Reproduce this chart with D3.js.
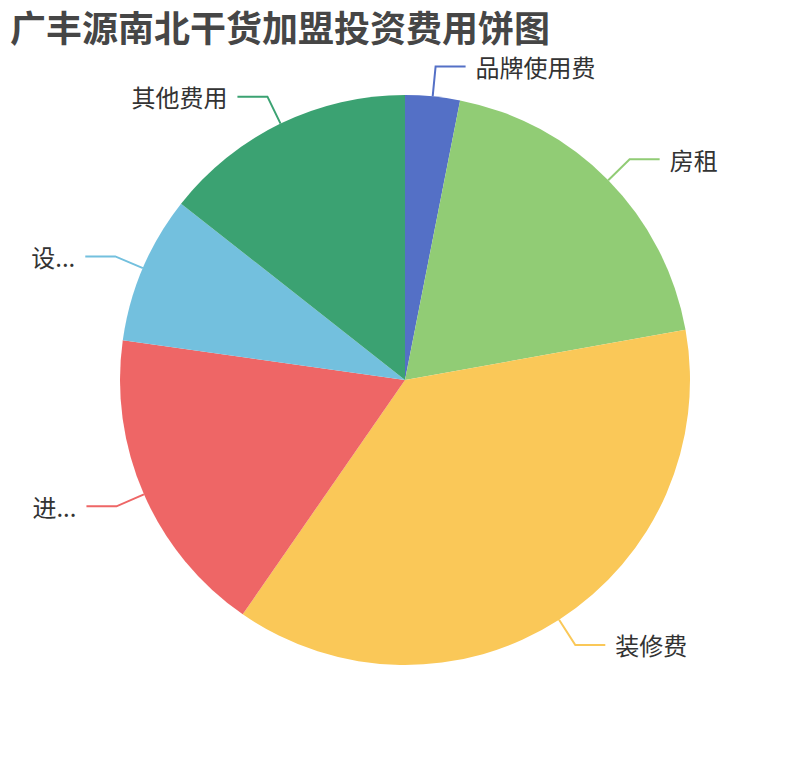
<!DOCTYPE html>
<html>
<head>
<meta charset="utf-8">
<script src="https://cdn.jsdelivr.net/npm/d3@7"></script>
<style>
  html, body { margin: 0; padding: 0; background: #fff; }
  svg { display: block; }
  .lbl { font-family: "Microsoft YaHei", "Noto Sans CJK SC", sans-serif; font-size: 24px; fill: #333; }
</style>
</head>
<body>
<svg id="chart"></svg>
<script>
// slice order as drawn, clockwise from 12 o'clock
const categories = ["品牌使用费", "房租", "装修费", "进...", "设...", "其他费用"];
const values = [3.1, 19.1, 37.5, 17.6, 8.4, 14.4];
const colours = ["#5470c6", "#91cc75", "#fac858", "#ee6666", "#73c0de", "#3ba272"];
const title = "广丰源南北干货加盟投资费用饼图";

const width = 810, height = 760;
const radius = Math.min(width, height) / 2 * 0.75;
const len1 = 30, len2 = 30, gap = 10;

const svg = d3.select("#chart")
  .attr("width", width)
  .attr("height", height);

svg.append("text")
  .attr("x", 10)
  .attr("y", 42)
  .attr("font-family", "\"Microsoft YaHei\", \"Noto Sans CJK SC\", sans-serif")
  .attr("font-size", 36)
  .attr("font-weight", "bold")
  .attr("fill", "#464646")
  .text(title);

const data = categories.map((c, i) => ({ name: c, value: values[i], colour: colours[i] }));

const pie = d3.pie().sort(null).value(d => d.value).startAngle(0).endAngle(2 * Math.PI);
const arc = d3.arc().innerRadius(0).outerRadius(radius);

const g = svg.append("g")
  .attr("transform", `translate(${width / 2}, ${height / 2})`);

const arcs = pie(data);

g.selectAll("path.slice")
  .data(arcs)
  .join("path")
  .attr("class", "slice")
  .attr("fill", d => d.data.colour)
  .attr("d", arc);

// label line: out from the edge, then sideways
const pt = (a, r) => [Math.sin(a) * r, -Math.cos(a) * r];

arcs.forEach(d => {
  const mid = (d.startAngle + d.endAngle) / 2;
  const p0 = pt(mid, radius);
  const p1 = pt(mid, radius + len1);
  const right = p1[0] >= 0;
  const p2 = [p1[0] + (right ? len2 : -len2), p1[1]];

  g.append("polyline")
    .attr("points", [p0, p1, p2].map(p => p.join(",")).join(" "))
    .attr("fill", "none")
    .attr("stroke", d.data.colour)
    .attr("stroke-width", 2);

  g.append("text")
    .attr("class", "lbl")
    .attr("x", p2[0] + (right ? gap : -gap))
    .attr("y", p2[1])
    .attr("dominant-baseline", "central")
    .attr("text-anchor", right ? "start" : "end")
    .text(d.data.name);
});
</script>
</body>
</html>
